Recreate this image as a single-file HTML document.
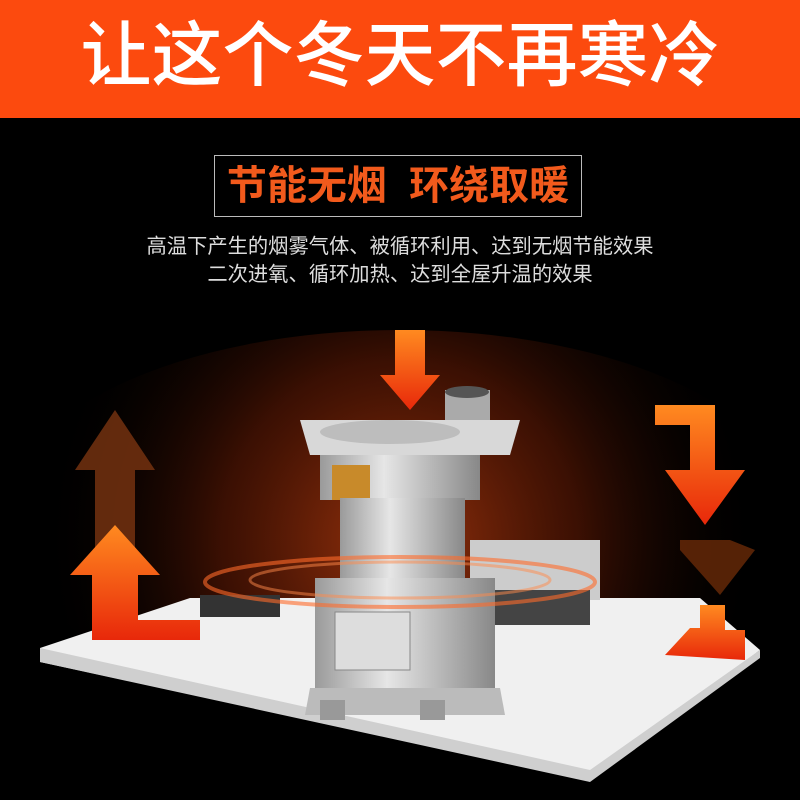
<!DOCTYPE html>
<html><head><meta charset="utf-8"><style>
body{margin:0;width:800px;height:800px;background:#000;overflow:hidden;position:relative;font-family:"Liberation Sans","Noto Sans CJK SC",sans-serif}
.banner{position:absolute;left:0;top:0;width:800px;height:118px;background:#fc4a0e}
.banner div{position:absolute;left:0;width:800px;top:12px;text-align:center;color:#fff;font-size:71px;line-height:90px;font-weight:500}
.box{position:absolute;left:214px;top:155px;width:368px;height:62px;border:1.5px solid #bbb;box-sizing:border-box}
.box div{position:absolute;left:0;width:100%;top:8px;text-align:center;color:#f25a1c;font-size:40px;line-height:44px;font-weight:bold}
.t{position:absolute;left:0;width:800px;text-align:center;color:#ddd;font-size:20.3px;line-height:24px}
</style></head><body>
<svg width="800" height="800" style="position:absolute;left:0;top:0">
<defs>
<radialGradient id="glow" cx="400" cy="540" r="360" gradientUnits="userSpaceOnUse">
<stop offset="0" stop-color="#c2400f" stop-opacity="0.8"/>
<stop offset="0.5" stop-color="#6a1c05" stop-opacity="0.55"/>
<stop offset="1" stop-color="#000" stop-opacity="0"/>
</radialGradient>
<linearGradient id="arr" x1="0" y1="0" x2="0" y2="1">
<stop offset="0" stop-color="#ff8a20"/><stop offset="1" stop-color="#e8280a"/></linearGradient>
<linearGradient id="metal" x1="0" y1="0" x2="1" y2="0">
<stop offset="0" stop-color="#9a9a9a"/><stop offset="0.4" stop-color="#e6e6e6"/><stop offset="1" stop-color="#888"/></linearGradient>
</defs>
<ellipse cx="400" cy="520" rx="400" ry="190" fill="url(#glow)"/>
<polygon points="40,648 190,598 700,598 760,650 590,780 40,662" fill="#f0f0f0"/>
<polygon points="40,648 590,770 760,650 760,658 590,782 40,662" fill="#cfcfcf"/>
<rect x="200" y="595" width="80" height="22" fill="#333"/>
<rect x="470" y="540" width="130" height="60" fill="#ccc"/>
<rect x="490" y="590" width="100" height="35" fill="#444"/>
<polygon points="75,470 115,410 155,470 135,470 135,560 95,560 95,470" fill="#7a3410" opacity="0.8"/>
<polygon points="70,575 115,525 160,575 138,575 138,620 200,620 200,640 92,640 92,575" fill="url(#arr)"/>
<polygon points="395,330 425,330 425,375 440,375 410,410 380,375 395,375" fill="url(#arr)"/>
<polygon points="655,405 715,405 715,470 745,470 705,525 665,470 690,470 690,425 655,425" fill="url(#arr)"/>
<polygon points="680,540 730,540 755,550 720,595 680,550" fill="#6a2a08" opacity="0.8"/>
<polygon points="700,605 725,605 725,630 745,630 745,660 665,655 690,628 700,628" fill="url(#arr)"/>
<rect x="445" y="390" width="45" height="35" fill="#aaa"/>
<ellipse cx="467" cy="392" rx="22" ry="6" fill="#555"/>
<polygon points="300,420 520,420 510,455 310,455" fill="#d8d8d8"/>
<ellipse cx="390" cy="432" rx="70" ry="12" fill="#bdbdbd"/>
<rect x="320" y="455" width="160" height="45" fill="url(#metal)"/>
<rect x="332" y="465" width="38" height="35" fill="#c88a2a"/>
<rect x="340" y="498" width="125" height="85" fill="url(#metal)"/>
<rect x="315" y="578" width="180" height="110" fill="url(#metal)"/>
<rect x="335" y="612" width="75" height="58" fill="#ddd" stroke="#888"/>
<polygon points="310,688 500,688 505,715 305,715" fill="#bbb"/>
<rect x="320" y="700" width="25" height="20" fill="#999"/>
<rect x="420" y="700" width="25" height="20" fill="#999"/>
<ellipse cx="400" cy="582" rx="195" ry="25" fill="none" stroke="#ff6a2a" stroke-width="4" opacity="0.6"/>
<ellipse cx="400" cy="580" rx="150" ry="18" fill="none" stroke="#ff8a4a" stroke-width="3" opacity="0.5"/>
</svg>
<div class="banner"><div>让这个冬天不再寒冷</div></div>
<div class="box"><div>节能无烟&nbsp;&nbsp;环绕取暖</div></div>
<div class="t" style="top:235px">高温下产生的烟雾气体、被循环利用、达到无烟节能效果</div>
<div class="t" style="top:263px">二次进氧、循环加热、达到全屋升温的效果</div>
</body></html>
